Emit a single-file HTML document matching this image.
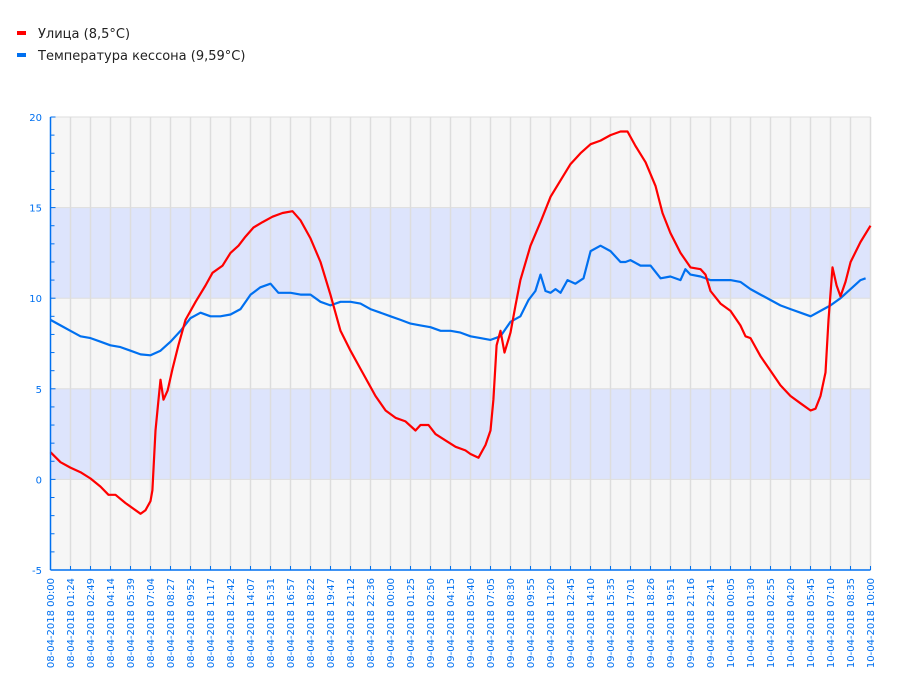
<!DOCTYPE html>
<html><head><meta charset="utf-8"><style>
body{margin:0;background:#fff;width:900px;height:700px;overflow:hidden}
svg{display:block;font-family:"DejaVu Sans","Liberation Sans",sans-serif}
</style></head><body>
<svg id="chart" width="900" height="700">
<g>
 <g><rect x="17" y="31" width="9" height="4" fill="#ff0000"/><text x="38" y="38" font-size="13" fill="#222">Улица (8,5°C)</text></g>
 <g><rect x="17" y="53" width="9" height="4" fill="#0070f0"/><text x="38" y="60" font-size="13" fill="#222">Температура кессона (9,59°C)</text></g>
</g>
<g id="plot"></g>
</svg>
<script>
const yTicks=[-5,0,5,10,15,20];
const xLabels=["08-04-2018 00:00","08-04-2018 01:24","08-04-2018 02:49","08-04-2018 04:14","08-04-2018 05:39","08-04-2018 07:04","08-04-2018 08:27","08-04-2018 09:52","08-04-2018 11:17","08-04-2018 12:42","08-04-2018 14:07","08-04-2018 15:31","08-04-2018 16:57","08-04-2018 18:22","08-04-2018 19:47","08-04-2018 21:12","08-04-2018 22:36","09-04-2018 00:00","09-04-2018 01:25","09-04-2018 02:50","09-04-2018 04:15","09-04-2018 05:40","09-04-2018 07:05","09-04-2018 08:30","09-04-2018 09:55","09-04-2018 11:20","09-04-2018 12:45","09-04-2018 14:10","09-04-2018 15:35","09-04-2018 17:01","09-04-2018 18:26","09-04-2018 19:51","09-04-2018 21:16","09-04-2018 22:41","10-04-2018 00:05","10-04-2018 01:30","10-04-2018 02:55","10-04-2018 04:20","10-04-2018 05:45","10-04-2018 07:10","10-04-2018 08:35","10-04-2018 10:00"];
// hours since 08-04-2018 00:00
const redTimes=[0,0.71,1.41,2.12,2.83,3.54,4.10,4.60,5.30,6.01,6.37,6.72,7.07,7.21,7.43,7.64,7.78,7.99,8.28,8.63,9.05,9.55,10.26,10.96,11.46,12.17,12.73,13.30,13.79,14.36,15.0,15.7,16.41,17.12,17.68,18.39,19.1,19.8,20.51,21.22,21.93,22.28,22.99,23.7,24.4,25.11,25.82,26.17,26.74,27.23,27.94,28.65,29.35,29.71,30.27,30.77,31.12,31.33,31.55,31.83,32.11,32.54,32.89,33.24,33.95,34.66,35.37,36.07,36.78,37.49,38.2,38.9,39.61,40.32,40.81,41.38,42.09,42.79,43.29,43.85,44.56,45.27,45.98,46.33,46.68,47.39,48.1,48.8,49.16,49.51,50.22,50.93,51.63,52.34,53.05,53.76,54.11,54.46,54.82,55.03,55.31,55.6,55.88,56.23,56.59,57.29,58];
const redValues=[1.5,0.95,0.65,0.4,0.05,-0.4,-0.85,-0.85,-1.3,-1.7,-1.9,-1.7,-1.2,-0.6,2.7,4.4,5.5,4.4,4.9,6.1,7.4,8.8,9.8,10.7,11.4,11.8,12.5,12.9,13.4,13.9,14.2,14.5,14.7,14.8,14.3,13.3,12.0,10.2,8.2,7.1,6.1,5.6,4.6,3.8,3.4,3.2,2.7,3.0,3.0,2.5,2.15,1.8,1.6,1.4,1.2,1.9,2.7,4.4,7.4,8.2,7.0,8.1,9.6,11.0,12.9,14.2,15.6,16.5,17.4,18.0,18.5,18.7,19.0,19.2,19.2,18.4,17.5,16.2,14.7,13.6,12.5,11.7,11.6,11.3,10.4,9.7,9.3,8.5,7.9,7.8,6.8,6.0,5.2,4.6,4.2,3.8,3.9,4.6,5.9,8.8,11.7,10.7,10.1,10.9,12.0,13.1,14.0];
const blueTimes=[0,0.71,1.41,2.12,2.83,3.54,4.24,4.95,5.66,6.37,7.07,7.78,8.49,9.2,9.9,10.61,11.32,12.02,12.73,13.44,14.15,14.85,15.56,16.12,16.98,17.68,18.39,19.1,19.8,20.51,21.22,21.93,22.63,23.34,24.05,24.76,25.46,26.17,26.88,27.59,28.29,29.0,29.71,30.41,31.12,31.83,32.54,33.24,33.81,34.3,34.66,35.01,35.37,35.72,36.07,36.57,37.13,37.7,38.2,38.9,39.61,40.32,40.67,41.02,41.73,42.44,43.15,43.85,44.56,44.91,45.27,45.98,46.68,47.39,48.1,48.8,49.51,50.22,50.93,51.63,52.34,53.05,53.76,54.46,55.17,55.88,56.59,57.29,57.65];
const blueValues=[8.8,8.5,8.2,7.9,7.8,7.6,7.4,7.3,7.1,6.9,6.85,7.1,7.6,8.2,8.9,9.2,9.0,9.0,9.1,9.4,10.2,10.6,10.8,10.3,10.3,10.2,10.2,9.8,9.6,9.8,9.8,9.7,9.4,9.2,9.0,8.8,8.6,8.5,8.4,8.2,8.2,8.1,7.9,7.8,7.7,7.9,8.7,9.0,9.9,10.4,11.3,10.4,10.3,10.5,10.3,11.0,10.8,11.1,12.6,12.9,12.6,12.0,12.0,12.1,11.8,11.8,11.1,11.2,11.0,11.6,11.3,11.2,11.0,11.0,11.0,10.9,10.5,10.2,9.9,9.6,9.4,9.2,9.0,9.3,9.6,10.0,10.5,11.0,11.1];

const NS="http://www.w3.org/2000/svg";
const L=50.5,R=870.5,T=117,B=570,H0=0,H1=58,V0=-5,V1=20;
const x=h=>L+(h-H0)/(H1-H0)*(R-L);
const y=v=>B-(v-V0)/(V1-V0)*(B-T);
const g=document.getElementById('plot');
function mk(tag,attrs,parent){const e=document.createElementNS(NS,tag);for(const k in attrs)e.setAttribute(k,attrs[k]);(parent||g).appendChild(e);return e;}
// bands
for(let i=0;i<yTicks.length-1;i++){
 const b=mk('rect',{x:L,y:y(yTicks[i+1]),width:R-L,height:y(yTicks[i])-y(yTicks[i+1]),fill:(i%2)?'#dde4fc':'#f6f6f6'});
 
 
}
// vertical gridlines
const n=xLabels.length;
for(let i=1;i<n;i++){
 const px=L+i*(R-L)/(n-1);
 const ln=mk('line',{x1:px,x2:px,y1:T,y2:B,stroke:'#dddddd','stroke-width':1.5});
 
 
}
// horizontal gridlines
yTicks.forEach(v=>{const ln=mk('line',{x1:L,x2:R,y1:y(v),y2:y(v),stroke:'#dddddd','stroke-width':1});
 
 });
// series
function series(ts,vs,col,name){
 const m=Math.min(ts.length,vs.length);let d='';
 for(let i=0;i<m;i++)d+=(i?'L':'M')+x(ts[i]).toFixed(1)+' '+y(vs[i]).toFixed(1);
 const p=mk('path',{d:d,fill:'none',stroke:col,'stroke-width':2.2,'stroke-linejoin':'round'});
 
 
}
series(blueTimes,blueValues,'#0070f0','caisson-temperature-line');
series(redTimes,redValues,'#ff0000','street-temperature-line');
// axes
const ax=mk('line',{x1:L,x2:L,y1:T,y2:B,stroke:'#0070f0','stroke-width':1.5});


const bx=mk('line',{x1:L,x2:R,y1:B,y2:B,stroke:'#0070f0','stroke-width':1.5});


for(let v=V0;v<=V1;v++){
 const major=yTicks.includes(v);
 const t=mk('line',{x1:L,x2:L+(major?5:4),y1:y(v),y2:y(v),stroke:'#0070f0','stroke-width':1});
 
 
}
yTicks.forEach(v=>{const t=mk('text',{x:42,y:y(v)+4,'text-anchor':'end','font-size':10,fill:'#0070f0'});
 t.textContent=v;
 
 });
xLabels.forEach((s,i)=>{
 const px=L+i*(R-L)/(n-1);
 const tk=mk('line',{x1:px,x2:px,y1:B-4,y2:B,stroke:'#0070f0','stroke-width':1});
 
 
 const t=mk('text',{x:0,y:0,'text-anchor':'end','font-size':10,fill:'#0070f0',transform:`translate(${px+3.5},578) rotate(-90)`});
 t.textContent=s;
 
 
});
</script>
</body></html>
